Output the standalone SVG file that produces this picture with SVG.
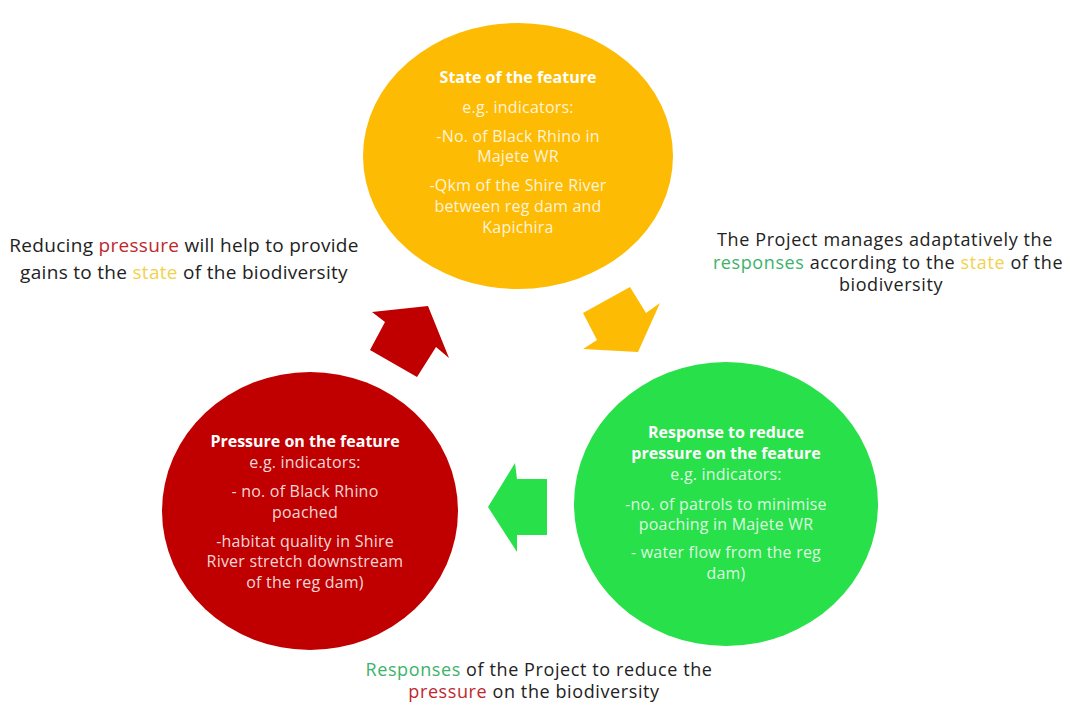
<svg xmlns="http://www.w3.org/2000/svg" width="1072" height="707" viewBox="0 0 1072 707">
<style>
  .body { font-family: "Open Sans", "Noto Sans", "Liberation Sans", sans-serif; font-size: 16px; letter-spacing: 0.2px; fill: #ffffff; fill-opacity: 0.85; text-anchor: middle; }
  .title { font-family: "Open Sans", "Noto Sans", "Liberation Sans", sans-serif; font-size: 16px; font-weight: bold; fill: #ffffff; text-anchor: middle; }
  .cap { font-family: "Open Sans", "Noto Sans", "Liberation Sans", sans-serif; font-size: 19px; letter-spacing: 0.3px; fill: #222222; text-anchor: middle; }
  .capb { font-family: "Open Sans", "Noto Sans", "Liberation Sans", sans-serif; font-size: 18px; letter-spacing: 0.6px; fill: #222222; text-anchor: middle; }
  .red { fill: #c0272d; }
  .yel { fill: #f2d24c; }
  .grn { fill: #3bb36a; }
</style>
<rect width="1072" height="707" fill="#ffffff"/>

<g id="state">
  <ellipse cx="518" cy="156" rx="155" ry="133" fill="#fdbb04"/>
  <text class="title" x="518" y="83">State of the feature</text>
  <text class="body" x="518" y="113">e.g. indicators:</text>
  <text class="body" x="518" y="142">-No. of Black Rhino in</text>
  <text class="body" x="518" y="162">Majete WR</text>
  <text class="body" x="518" y="191">-Qkm of the Shire River</text>
  <text class="body" x="518" y="212">between reg dam and</text>
  <text class="body" x="518" y="233">Kapichira</text>
</g>

<g id="pressure">
  <ellipse cx="310" cy="511" rx="148" ry="139" fill="#c00000"/>
  <text class="title" x="305" y="447">Pressure on the feature</text>
  <text class="body" x="305" y="468">e.g. indicators:</text>
  <text class="body" x="305" y="497">- no. of Black Rhino</text>
  <text class="body" x="305" y="518">poached</text>
  <text class="body" x="305" y="547">-habitat quality in Shire</text>
  <text class="body" x="305" y="567">River stretch downstream</text>
  <text class="body" x="305" y="588">of the reg dam)</text>
</g>

<g id="response">
  <ellipse cx="726" cy="504" rx="152" ry="142" fill="#28e04a"/>
  <text class="title" x="726" y="438">Response to reduce</text>
  <text class="title" x="726" y="459">pressure on the feature</text>
  <text class="body" x="726" y="480">e.g. indicators:</text>
  <text class="body" x="726" y="510">-no. of patrols to minimise</text>
  <text class="body" x="726" y="530">poaching in Majete WR</text>
  <text class="body" x="726" y="558">- water flow from the reg</text>
  <text class="body" x="726" y="579">dam)</text>
</g>

<g id="connectors">
  <polygon points="428,306 449,358 436,347 417,377 370,350 385,322 372,312" fill="#c00000"/>
  <polygon points="583,313 630,287 646,313 660,303 638,352 583,349 597,340" fill="#fdbb04"/>
  <polygon points="488,507 515,463 517,479 547,479 547,535 517,535 517,552" fill="#28e04a"/>
</g>

<g id="captions">
  <text class="cap" x="184" y="252">Reducing <tspan class="red">pressure</tspan> will help to provide</text>
  <text class="cap" x="184" y="279">gains to the <tspan class="yel">state</tspan> of the biodiversity</text>
  <text class="capb" x="885" y="246">The Project manages adaptatively the</text>
  <text class="capb" x="888" y="268.5"><tspan class="grn">responses</tspan> according to the <tspan class="yel">state</tspan> of the</text>
  <text class="capb" x="891" y="291">biodiversity</text>
  <text class="capb" x="539" y="676"><tspan class="grn">Responses</tspan> of the Project to reduce the</text>
  <text class="capb" x="534" y="698"><tspan class="red">pressure</tspan> on the biodiversity</text>
</g>
</svg>
